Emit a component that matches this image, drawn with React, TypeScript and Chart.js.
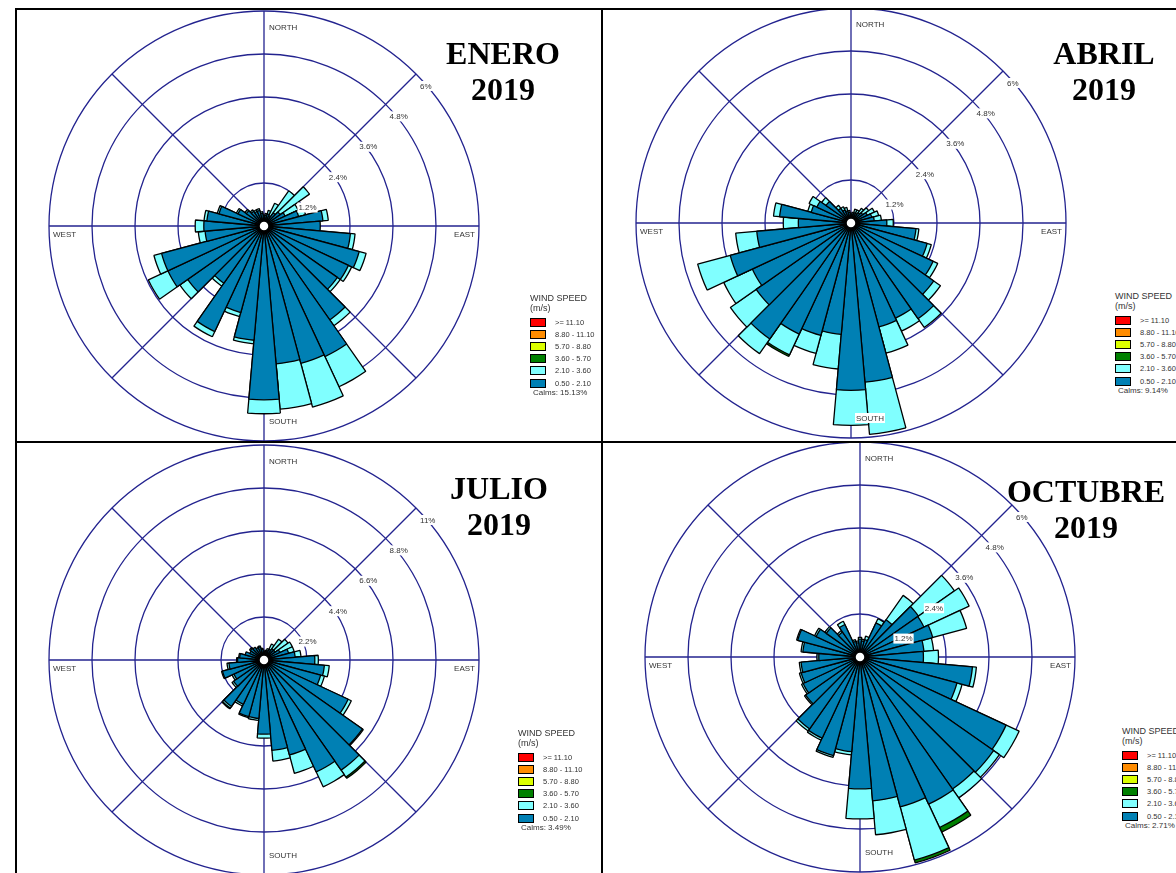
import React, { useEffect, useRef } from "react";
import { Chart, registerables } from "chart.js";
Chart.register(...registerables);

// ---------- shared categories / labels ----------
const DIRECTIONS = ["0", "10", "20", "30", "40", "50", "60", "70", "80", "90", "100", "110", "120", "130", "140", "150", "160", "170",
  "180", "190", "200", "210", "220", "230", "240", "250", "260", "270", "280", "290", "300", "310", "320", "330", "340", "350"];
const SPOKE_ANGLES = [0, 45, 90, 135, 180, 225, 270, 315];
const SPEED_CLASSES = [">= 11.10", "8.80 - 11.10", "5.70 - 8.80", "3.60 - 5.70", "2.10 - 3.60", "0.50 - 2.10"];
const SPEED_COLORS = ["#ff0000", "#ff8c00", "#dcff00", "#008000", "#80ffff", "#0080b4"];

// ---------- ENERO 2019 (% frequency per class, 36 directions from N clockwise) ----------
const eneroSlow = [0.3, 0.3, 0.35, 0.3, 0.45, 0.55, 0.65, 1.0, 1.65, 1.57, 2.42, 2.75, 2.6, 2.5, 3.2, 4.02, 3.97, 3.86,
  4.85, 3.2, 2.5, 3.25, 1.95, 2.6, 2.96, 2.96, 1.65, 1.68, 1.6, 1.3, 0.8, 0.6, 0.5, 0.45, 0.45, 0.35];
const eneroMid = [0, 0.05, 0.1, 0.4, 0.75, 1.0, 0.4, 0.2, 0.15, 0, 0.13, 0.2, 0.1, 0.1, 0.2, 0.93, 1.26, 1.27,
  0.39, 0.1, 0.12, 0.16, 0.1, 0.27, 0.6, 0.22, 0.19, 0.24, 0.08, 0.05, 0.05, 0.05, 0.05, 0.05, 0.05, 0.05];
const eneroHigh = [0, 0, 0, 0, 0, 0, 0, 0, 0, 0, 0, 0, 0, 0, 0, 0, 0, 0, 0, 0, 0, 0, 0, 0, 0, 0, 0, 0, 0, 0, 0, 0, 0, 0, 0, 0];
const eneroRings = [1.2, 2.4, 3.6, 4.8, 6];
const eneroRingLabels = ["1.2%", "2.4%", "3.6%", "4.8%", "6%"];

// ---------- ABRIL 2019 ----------
const abrilSlow = [0.25, 0.25, 0.3, 0.3, 0.35, 0.4, 0.5, 0.6, 0.65, 1.0, 1.82, 2.2, 2.53, 2.82, 3.26, 2.93, 3.0, 4.46,
  4.67, 3.12, 3.25, 3.42, 3.95, 3.23, 3.04, 3.49, 2.64, 1.47, 2.0, 1.15, 1.05, 0.85, 0.5, 0.4, 0.35, 0.3];
const abrilMid = [0, 0.05, 0.1, 0.1, 0.15, 0.2, 0.22, 0.2, 0.2, 0.18, 0.08, 0.12, 0.14, 0.23, 0.3, 0.4, 0.76, 1.46,
  0.98, 0.97, 0.52, 0.64, 0.5, 0.88, 0.88, 0.94, 0.59, 0.42, 0.17, 0.1, 0.24, 0.15, 0.1, 0.1, 0.1, 0.05];
const abrilHigh = [0, 0, 0, 0, 0, 0, 0, 0, 0, 0, 0, 0, 0, 0, 0, 0, 0, 0, 0, 0, 0, 0.05, 0, 0, 0, 0, 0, 0, 0, 0, 0, 0, 0, 0, 0, 0];
const abrilRings = [1.2, 2.4, 3.6, 4.8, 6];
const abrilRingLabels = ["1.2%", "2.4%", "3.6%", "4.8%", "6%"];

// ---------- JULIO 2019 ----------
const julioSlow = [0.4, 0.45, 0.5, 0.6, 0.7, 0.7, 0.9, 1.3, 1.6, 2.6, 3.1, 3.0, 4.75, 6.15, 6.88, 6.32, 5.03, 4.64,
  3.79, 3.0, 3.0, 2.5, 2.9, 1.9, 1.7, 2.2, 1.8, 1.35, 1.25, 1.0, 0.8, 0.85, 0.8, 0.7, 0.7, 0.55];
const julioMid = [0, 0.05, 0.1, 0.3, 0.6, 0.8, 0.7, 0.3, 0.3, 0.18, 0.25, 0.2, 0.18, 0.05, 0.43, 0.84, 0.97, 0.55,
  0.21, 0.1, 0.06, 0.1, 0.1, 0.1, 0.1, 0.05, 0.1, 0.05, 0.05, 0, 0, 0.05, 0, 0, 0.05, 0.05];
const julioHigh = [0, 0, 0, 0, 0, 0, 0, 0, 0, 0, 0, 0, 0, 0, 0.08, 0, 0, 0, 0, 0, 0, 0, 0.05, 0, 0, 0, 0, 0, 0, 0, 0, 0, 0, 0, 0, 0];
const julioRings = [2.2, 4.4, 6.6, 8.8, 11];
const julioRingLabels = ["2.2%", "4.4%", "6.6%", "8.8%", "11%"];

// ---------- OCTUBRE 2019 ----------
const octubreSlow = [0.5, 0.45, 0.5, 1.05, 1.27, 1.99, 1.97, 2.1, 1.79, 1.77, 3.15, 2.8, 4.5, 4.55, 4.5, 4.53, 4.33, 4.03,
  3.68, 2.65, 2.85, 2.5, 2.45, 1.85, 1.75, 1.7, 1.65, 1.15, 1.6, 1.8, 1.35, 1.15, 0.85, 1.0, 0.45, 0.4];
const octubreMid = [0.05, 0.05, 0.1, 0.13, 0.83, 1.23, 1.39, 0.98, 0.27, 0.42, 0.11, 0.15, 0.4, 0.2, 0.3, 0.72, 1.54, 0.95,
  0.84, 0.09, 0.05, 0.06, 0.07, 0.04, 0.05, 0.05, 0.05, 0.05, 0.05, 0.03, 0.05, 0.05, 0.05, 0.1, 0.05, 0.05];
const octubreHigh = [0, 0, 0, 0, 0, 0, 0, 0, 0, 0, 0, 0, 0, 0, 0, 0.14, 0.08, 0, 0, 0, 0, 0, 0, 0, 0, 0, 0, 0, 0, 0, 0, 0, 0, 0, 0, 0];
const octubreRings = [1.2, 2.4, 3.6, 4.8, 6];
const octubreRingLabels = ["1.2%", "2.4%", "3.6%", "4.8%", "6%"];

// ---------- styling ----------
const NAVY = "#23238f";
const PAD = 40;
const RADIUS = 215;
const CANVAS = 2 * (PAD + RADIUS);
const SANS = "Arial, 'Liberation Sans', sans-serif";

const roseDecor = {
  id: "roseDecor",
  beforeDatasetsDraw(chart: any) {
    const s = chart.scales.r;
    const ctx = chart.ctx;
    ctx.save();
    ctx.strokeStyle = NAVY;
    ctx.lineWidth = 1.3;
    for (const a of SPOKE_ANGLES) {
      const rad = (a * Math.PI) / 180;
      ctx.beginPath();
      ctx.moveTo(s.xCenter, s.yCenter);
      ctx.lineTo(s.xCenter + Math.sin(rad) * s.drawingArea, s.yCenter - Math.cos(rad) * s.drawingArea);
      ctx.stroke();
    }
    ctx.restore();
  },
  afterDatasetsDraw(chart: any, _args: any, opts: any) {
    const s = chart.scales.r;
    const ctx = chart.ctx;
    const cx = s.xCenter;
    const cy = s.yCenter;
    const R = s.drawingArea;
    ctx.save();
    // calm circle
    ctx.beginPath();
    ctx.arc(cx, cy, 5, 0, Math.PI * 2);
    ctx.fillStyle = "#fff";
    ctx.fill();
    ctx.lineWidth = 1.5;
    ctx.strokeStyle = "#000";
    ctx.stroke();

    const label = (text: string, x: number, y: number, align: "left" | "right") => {
      ctx.font = `8px ${SANS}`;
      const w = ctx.measureText(text).width;
      const lx = align === "left" ? x : x - w;
      ctx.fillStyle = "#fff";
      ctx.fillRect(lx - 1, y - 5, w + 2, 10);
      ctx.fillStyle = "#333";
      ctx.textAlign = "left";
      ctx.textBaseline = "middle";
      ctx.fillText(text, lx, y + 0.5);
    };
    // ring labels along NE spoke
    const rings: number[] = opts.rings || [];
    const labels: string[] = opts.ringLabels || [];
    rings.forEach((v, i) => {
      const d = s.getDistanceFromCenterForValue(v);
      const px = cx + d * Math.SQRT1_2;
      const py = cy - d * Math.SQRT1_2;
      label(labels[i], px + 4, py + 12, "left");
    });
    // compass labels
    label("NORTH", cx + 5, cy - R + 16, "left");
    label("SOUTH", cx + 5, cy + R - 20, "left");
    label("WEST", cx - R + 4, cy + 8, "left");
    label("EAST", cx + R - 4, cy + 8, "right");
    ctx.restore();
  },
};

function Rose({ slow, mid, high, rings, ringLabels }: any) {
  const ref = useRef<HTMLCanvasElement>(null);
  useEffect(() => {
    const lvl1 = slow.slice();
    const lvl2 = slow.map((v: number, i: number) => (mid[i] > 0 ? v + mid[i] : 0));
    const lvl3 = slow.map((v: number, i: number) => (high[i] > 0 ? v + mid[i] + high[i] : 0));
    const ds = (data: number[], color: string) => ({
      data,
      backgroundColor: color,
      borderColor: "#000",
      borderWidth: 1.3,
      clip: false,
    });
    const chart = new Chart(ref.current as HTMLCanvasElement, {
      type: "polarArea",
      data: {
        labels: DIRECTIONS,
        datasets: [ds(lvl1, SPEED_COLORS[5]), ds(lvl2, SPEED_COLORS[4]), ds(lvl3, SPEED_COLORS[3])],
      },
      options: {
        animation: false,
        responsive: false,
        maintainAspectRatio: false,
        events: [],
        layout: { padding: PAD },
        plugins: {
          legend: { display: false },
          tooltip: { enabled: false },
          roseDecor: { rings, ringLabels },
        } as any,
        scales: {
          r: {
            min: 0,
            max: rings[rings.length - 1],
            startAngle: -5,
            afterBuildTicks: (axis: any) => {
              axis.ticks = [0, ...rings].map((v: number) => ({ value: v }));
            },
            ticks: { display: false },
            grid: { circular: true, color: NAVY, lineWidth: 1.3 },
            angleLines: { display: false },
            pointLabels: { display: false },
          } as any,
        },
      },
      plugins: [roseDecor],
    });
    return () => chart.destroy();
  }, []);
  return <canvas ref={ref} width={CANVAS} height={CANVAS} style={{ width: CANVAS, height: CANVAS, display: "block" }} />;
}

function Legend({ x, y, calms }: { x: number; y: number; calms: string }) {
  return (
    <div style={{ position: "absolute", left: x, top: y, width: 90, height: 110, fontFamily: SANS, color: "#333" }}>
      <div style={{ position: "absolute", left: 0, top: 0, fontSize: 9, lineHeight: "10px", whiteSpace: "nowrap" }}>WIND SPEED</div>
      <div style={{ position: "absolute", left: 0, top: 10, fontSize: 9, lineHeight: "10px", whiteSpace: "nowrap" }}>(m/s)</div>
      {SPEED_CLASSES.map((c, i) => (
        <React.Fragment key={c}>
          <div
            style={{
              position: "absolute",
              left: 0,
              top: 24.5 + 12.2 * i,
              width: 16,
              height: 9,
              boxSizing: "border-box",
              border: "1.5px solid #000",
              background: SPEED_COLORS[i],
            }}
          />
          <div style={{ position: "absolute", left: 25, top: 24.5 + 12.2 * i, fontSize: 7.5, lineHeight: "9px", whiteSpace: "nowrap" }}>{c}</div>
        </React.Fragment>
      ))}
      <div style={{ position: "absolute", left: 3, top: 95, fontSize: 8, lineHeight: "10px", whiteSpace: "nowrap" }}>{calms}</div>
    </div>
  );
}

function Title({ cx, top, lines }: { cx: number; top: number; lines: string[] }) {
  return (
    <div
      style={{
        position: "absolute",
        left: cx - 120,
        top,
        width: 240,
        textAlign: "center",
        fontFamily: "'Liberation Serif', 'Times New Roman', serif",
        fontWeight: "bold",
        fontSize: 32,
        lineHeight: "36px",
        color: "#000",
      }}
    >
      {lines.map((l) => (
        <div key={l}>{l}</div>
      ))}
    </div>
  );
}

const PANELS = [
  { key: "enero", rect: [17, 10, 584, 431], center: [264, 226], slow: eneroSlow, mid: eneroMid, high: eneroHigh, rings: eneroRings, ringLabels: eneroRingLabels,
    title: ["ENERO", "2019"], titleAt: [503, 35], legendAt: [530, 293], calms: "Calms: 15.13%" },
  { key: "abril", rect: [603, 10, 573, 431], center: [851, 223], slow: abrilSlow, mid: abrilMid, high: abrilHigh, rings: abrilRings, ringLabels: abrilRingLabels,
    title: ["ABRIL", "2019"], titleAt: [1104, 35], legendAt: [1115, 291], calms: "Calms: 9.14%" },
  { key: "julio", rect: [17, 443, 584, 430], center: [264, 660], slow: julioSlow, mid: julioMid, high: julioHigh, rings: julioRings, ringLabels: julioRingLabels,
    title: ["JULIO", "2019"], titleAt: [499, 470], legendAt: [518, 728], calms: "Calms: 3.49%" },
  { key: "octubre", rect: [603, 443, 573, 430], center: [860, 657], slow: octubreSlow, mid: octubreMid, high: octubreHigh, rings: octubreRings, ringLabels: octubreRingLabels,
    title: ["OCTUBRE", "2019"], titleAt: [1086, 473], legendAt: [1122, 726], calms: "Calms: 2.71%" },
];

export default function App() {
  return (
    <div style={{ position: "fixed", left: 0, top: 0, width: 1176, height: 873, overflow: "hidden", background: "#fff" }}>
      {PANELS.map((p) => (
        <div
          key={p.key}
          style={{ position: "absolute", left: p.rect[0], top: p.rect[1], width: p.rect[2], height: p.rect[3], overflow: "hidden" }}
        >
          <div
            style={{
              position: "absolute",
              left: p.center[0] - PAD - RADIUS - p.rect[0],
              top: p.center[1] - PAD - RADIUS - p.rect[1],
            }}
          >
            <Rose slow={p.slow} mid={p.mid} high={p.high} rings={p.rings} ringLabels={p.ringLabels} />
          </div>
        </div>
      ))}
      {PANELS.map((p) => (
        <Title key={p.key + "t"} cx={p.titleAt[0]} top={p.titleAt[1]} lines={p.title} />
      ))}
      {PANELS.map((p) => (
        <Legend key={p.key + "l"} x={p.legendAt[0]} y={p.legendAt[1]} calms={p.calms} />
      ))}
      {/* panel borders */}
      <div style={{ position: "absolute", left: 15, top: 8, width: 2, height: 865, background: "#000" }} />
      <div style={{ position: "absolute", left: 15, top: 8, width: 1161, height: 2, background: "#000" }} />
      <div style={{ position: "absolute", left: 601, top: 8, width: 2, height: 865, background: "#000" }} />
      <div style={{ position: "absolute", left: 15, top: 441, width: 1161, height: 2, background: "#000" }} />
    </div>
  );
}
